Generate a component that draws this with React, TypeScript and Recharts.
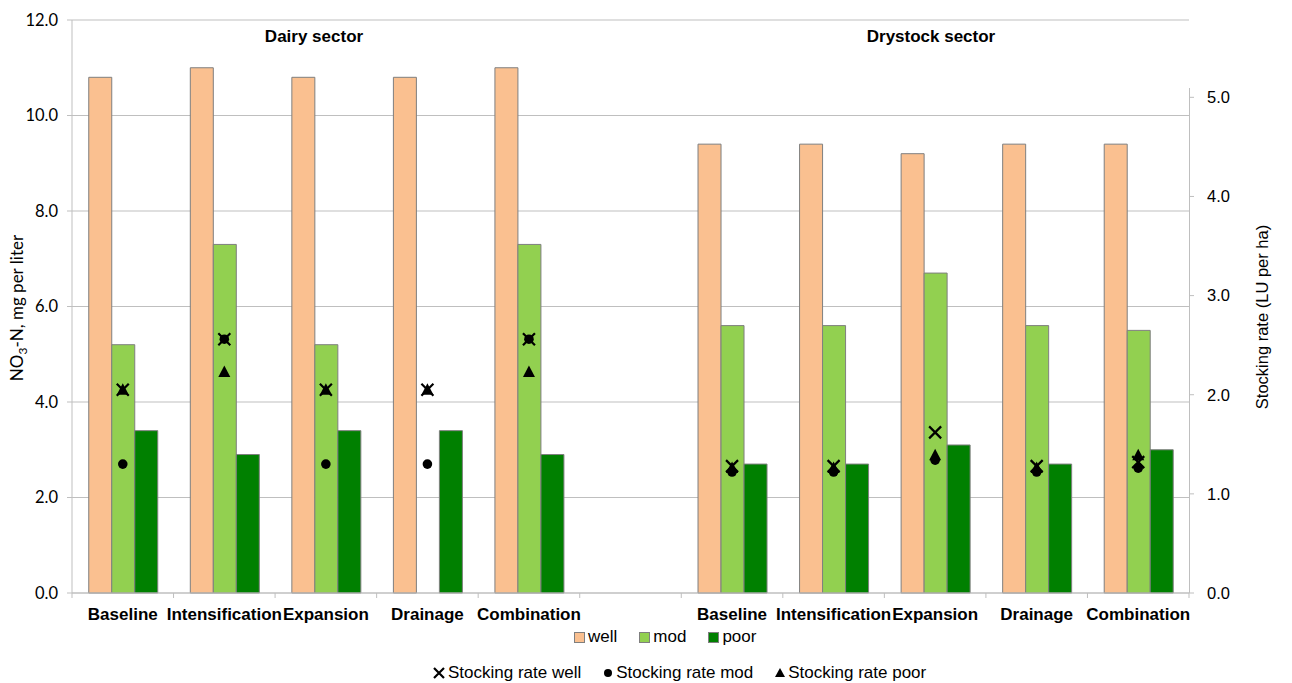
import { ComposedChart, Bar, Scatter, XAxis, YAxis, CartesianGrid } from "recharts";

// scenario groups: dairy (5), spacer, drystock (5)
const scenarios = [
  "Baseline",
  "Intensification",
  "Expansion",
  "Drainage",
  "Combination",
  "",
  "Baseline",
  "Intensification",
  "Expansion",
  "Drainage",
  "Combination",
];

// NO3-N leaching, mg per liter
const nitrateWell = [10.8, 11.0, 10.8, 10.8, 11.0, null, 9.4, 9.4, 9.2, 9.4, 9.4];
const nitrateMod = [5.2, 7.3, 5.2, null, 7.3, null, 5.6, 5.6, 6.7, 5.6, 5.5];
const nitratePoor = [3.4, 2.9, 3.4, 3.4, 2.9, null, 2.7, 2.7, 3.1, 2.7, 3.0];

// stocking rate, LU per ha
const rateWell = [2.05, 2.56, 2.05, 2.05, 2.56, null, 1.28, 1.28, 1.62, 1.28, 1.32];
const rateMod = [1.3, 2.56, 1.3, 1.3, 2.56, null, 1.22, 1.22, 1.34, 1.22, 1.26];
const ratePoor = [2.05, 2.23, 2.05, 2.05, 2.23, null, 1.26, 1.26, 1.39, 1.26, 1.39];

const nitrateTicks = [0, 2, 4, 6, 8, 10, 12];
const rateTicks = [0, 1, 2, 3, 4, 5];

const data = scenarios.map((scenario, i) => ({
  id: i,
  scenario,
  well: nitrateWell[i],
  mod: nitrateMod[i],
  poor: nitratePoor[i],
  rateWell: rateWell[i],
  rateMod: rateMod[i],
  ratePoor: ratePoor[i],
}));

const GRID = "#bfbfbf";
const ARIAL = "'Liberation Sans', Arial, sans-serif";
const CALIBRI = "Lato, 'Open Sans', sans-serif";

const ScenarioTick = (props: any) => {
  const { x, y, payload, index } = props;
  const half = payload.offset ?? 0;
  const axisY = y - 15;
  const last = index === scenarios.length - 1;
  return (
    <g>
      <line x1={x - half} x2={x - half} y1={axisY} y2={axisY + 5} stroke={GRID} />
      {last && <line x1={x + half} x2={x + half} y1={axisY} y2={axisY + 5} stroke={GRID} />}
      <text
        x={x}
        y={y}
        dy="0.71em"
        textAnchor="middle"
        fontFamily={ARIAL}
        fontWeight="bold"
        fontSize={17}
        fill="#000"
      >
        {scenarios[payload.value]}
      </text>
    </g>
  );
};

const crossShape = (props: any) => {
  const { cx, cy, payload } = props;
  if (payload?.rateWell == null) return <g />;
  const r = 6;
  return (
    <path
      d={`M${cx - r},${cy - r}L${cx + r},${cy + r}M${cx - r},${cy + r}L${cx + r},${cy - r}`}
      stroke="#000"
      strokeWidth={2.2}
      fill="none"
    />
  );
};

const dotShape = (props: any) => {
  const { cx, cy, payload } = props;
  if (payload?.rateMod == null) return <g />;
  return <circle cx={cx} cy={cy} r={4.8} fill="#000" />;
};

const triangleShape = (props: any) => {
  const { cx, cy, payload } = props;
  if (payload?.ratePoor == null) return <g />;
  return (
    <polygon
      points={`${cx},${cy - 6.5} ${cx + 6},${cy + 5} ${cx - 6},${cy + 5}`}
      fill="#000"
    />
  );
};

const legendText = { fontFamily: ARIAL, fontSize: 17, color: "#000", lineHeight: "16px" };

const swatch = (color: string) => (
  <span
    style={{
      display: "inline-block",
      width: 9,
      height: 9,
      background: color,
      border: "1px solid #7f7f7f",
      marginRight: 3,
    }}
  />
);

const App = () => {
  return (
    <div
      style={{
        position: "absolute",
        left: 0,
        top: 0,
        width: 1292,
        height: 683,
        background: "#fff",
        overflow: "hidden",
      }}
    >
      <ComposedChart
        width={1292}
        height={683}
        data={data}
        margin={{ top: 20, right: 0, left: 0, bottom: 0 }}
        barCategoryGap="16.5%"
        barGap={0}
      >
        <CartesianGrid vertical={false} stroke={GRID} />
        <XAxis
          dataKey="id"
          height={90}
          stroke={GRID}
          tickLine={false}
          tickSize={5}
          tickMargin={10}
          interval={0}
          tick={<ScenarioTick />}
        />
        <YAxis
          width={72}
          domain={[0, 12]}
          ticks={nitrateTicks}
          stroke={GRID}
          tickSize={5}
          tickMargin={9}
          tickFormatter={(v: number) => v.toFixed(1)}
          tick={{ fill: "#000", fontFamily: CALIBRI, fontSize: 16.5 }}
        />
        <YAxis
          yAxisId="rate"
          orientation="right"
          width={103}
          domain={[0, 5.78]}
          ticks={rateTicks}
          axisLine={false}
          stroke={GRID}
          tickSize={5}
          tickMargin={13}
          tickFormatter={(v: number) => v.toFixed(1)}
          tick={{ fill: "#000", fontFamily: ARIAL, fontSize: 16.5, textAnchor: "start" }}
        />
        <Bar dataKey="well" fill="#fac090" stroke="#7f7f7f" isAnimationActive={false} />
        <Bar dataKey="mod" fill="#92d050" stroke="#7f7f7f" isAnimationActive={false} />
        <Bar dataKey="poor" fill="#008000" stroke="#7f7f7f" isAnimationActive={false} />
        <Scatter yAxisId="rate" dataKey="rateWell" shape={crossShape} isAnimationActive={false} />
        <Scatter yAxisId="rate" dataKey="rateMod" shape={dotShape} isAnimationActive={false} />
        <Scatter yAxisId="rate" dataKey="ratePoor" shape={triangleShape} isAnimationActive={false} />
      </ComposedChart>

      {/* secondary axis line stops short of the plot top */}
      <div
        style={{
          position: "absolute",
          left: 1189,
          top: 88,
          width: 1,
          height: 505,
          background: GRID,
        }}
      />

      <div
        style={{
          position: "absolute",
          left: 214,
          top: 27,
          width: 200,
          textAlign: "center",
          fontFamily: ARIAL,
          fontWeight: "bold",
          fontSize: 17,
        }}
      >
        Dairy sector
      </div>
      <div
        style={{
          position: "absolute",
          left: 831,
          top: 27,
          width: 200,
          textAlign: "center",
          fontFamily: ARIAL,
          fontWeight: "bold",
          fontSize: 17,
        }}
      >
        Drystock sector
      </div>

      <div
        style={{
          position: "absolute",
          left: 17 - 150,
          top: 308 - 11,
          width: 300,
          height: 22,
          textAlign: "center",
          transform: "rotate(-90deg)",
          fontFamily: CALIBRI,
          fontSize: 17,
          whiteSpace: "nowrap",
        }}
      >
        NO<sub style={{ fontSize: 12 }}>3</sub>-N, mg per liter
      </div>
      <div
        style={{
          position: "absolute",
          left: 1264 - 150,
          top: 317 - 11,
          width: 300,
          height: 22,
          textAlign: "center",
          transform: "rotate(-90deg)",
          fontFamily: ARIAL,
          fontSize: 16.5,
          whiteSpace: "nowrap",
        }}
      >
        Stocking rate (LU per ha)
      </div>

      <div
        style={{
          position: "absolute",
          left: 574,
          top: 629,
          display: "flex",
          alignItems: "center",
          gap: 22,
          ...legendText,
        }}
      >
        <span style={{ display: "flex", alignItems: "center" }}>
          {swatch("#fac090")}well
        </span>
        <span style={{ display: "flex", alignItems: "center" }}>
          {swatch("#92d050")}mod
        </span>
        <span style={{ display: "flex", alignItems: "center" }}>
          {swatch("#008000")}poor
        </span>
      </div>

      <div
        style={{
          position: "absolute",
          left: 432,
          top: 665,
          display: "flex",
          alignItems: "center",
          gap: 21,
          ...legendText,
        }}
      >
        <span style={{ display: "flex", alignItems: "center" }}>
          <svg width={14} height={14} style={{ marginRight: 2 }}>
            <path d="M2,2L12,12M2,12L12,2" stroke="#000" strokeWidth={2.2} />
          </svg>
          Stocking rate well
        </span>
        <span style={{ display: "flex", alignItems: "center" }}>
          <svg width={12} height={14} style={{ marginRight: 2 }}>
            <circle cx={6} cy={7} r={4} fill="#000" />
          </svg>
          Stocking rate mod
        </span>
        <span style={{ display: "flex", alignItems: "center" }}>
          <svg width={12} height={14} style={{ marginRight: 2 }}>
            <polygon points="6,2 11,11 1,11" fill="#000" />
          </svg>
          Stocking rate poor
        </span>
      </div>
    </div>
  );
};

export default App;
